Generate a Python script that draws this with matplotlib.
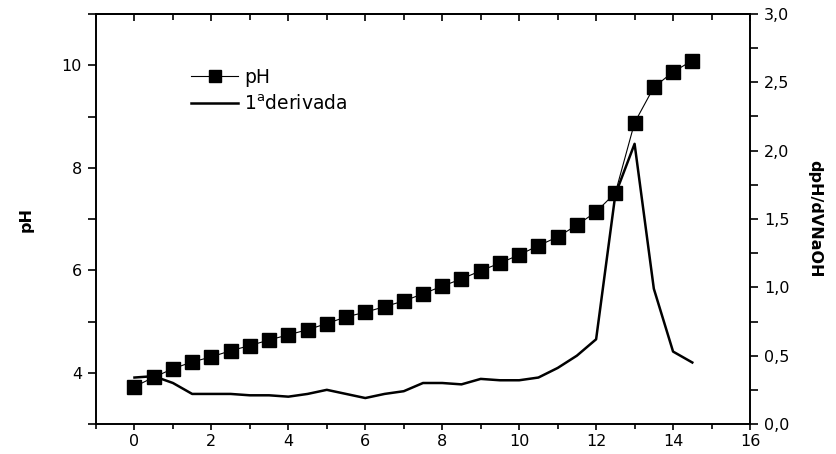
import matplotlib
matplotlib.use("Agg")
import matplotlib.pyplot as plt
import numpy as np

plt.rcParams['font.family'] = ['DejaVu Sans']
plt.rcParams['mathtext.fontset'] = 'dejavusans'

# volume of NaOH (mL)
vol = [0, 0.5, 1, 1.5, 2, 2.5, 3, 3.5, 4, 4.5, 5, 5.5, 6, 6.5, 7, 7.5,
       8, 8.5, 9, 9.5, 10, 10.5, 11, 11.5, 12, 12.5, 13, 13.5, 14, 14.5]
ph = [3.73, 3.91, 4.08, 4.21, 4.31, 4.43, 4.53, 4.64, 4.74, 4.84, 4.96, 5.09,
      5.18, 5.29, 5.40, 5.54, 5.69, 5.83, 5.99, 6.14, 6.30, 6.48, 6.65, 6.88,
      7.14, 7.51, 8.88, 9.57, 9.87, 10.09]
deriv = [0.34, 0.35, 0.30, 0.22, 0.22, 0.22, 0.21, 0.21, 0.20, 0.22, 0.25, 0.22,
         0.19, 0.22, 0.24, 0.30, 0.30, 0.29, 0.33, 0.32, 0.32, 0.34, 0.41, 0.50,
         0.62, 1.68, 2.05, 0.99, 0.53, 0.45]

fig = plt.figure(figsize=(8.37, 4.54), dpi=100)
ax = fig.add_axes([96/837, 30/454, (750-96)/837, (424-14)/454])
ax2 = ax.twinx()

l1, = ax.plot(vol, ph, '-s', color='black', lw=0.8, ms=9.5, label='pH')
l2, = ax2.plot(vol, deriv, '-', color='black', lw=1.8, label='1$^\\mathregular{a}$derivada')

ax.set_xlim(-1, 16)
ax.set_ylim(3, 11)
ax2.set_ylim(0, 3)

ax.set_xticks(np.arange(0, 17, 2))
ax.set_xticks(np.arange(-1, 17, 1), minor=True)
ax.set_yticks([4, 6, 8, 10])
ax.set_yticks([3, 5, 7, 9, 11], minor=True)
ax2.set_yticks(np.arange(0, 3.01, 0.5))
ax2.set_yticks(np.arange(0, 3.01, 0.25), minor=True)
ax2.set_yticklabels([('%.1f' % v).replace('.', ',') for v in np.arange(0, 3.01, 0.5)])

ax.tick_params(axis='x', which='major', direction='out', length=4, width=1.2,
               labelsize=11.5, pad=3)
ax.tick_params(axis='x', which='minor', direction='out', length=3.5, width=1.2)
ax.tick_params(axis='y', which='both', direction='out', length=6, width=1.2,
               labelsize=11.5, pad=4)
ax2.tick_params(axis='y', which='both', direction='out', length=6, width=1.2,
                labelsize=11.5, pad=4)

# ticks on the top edge point inward
top = ax.secondary_xaxis('top')
top.set_xticks(np.arange(0, 17, 2))
top.set_xticks(np.arange(-1, 17, 1), minor=True)
top.tick_params(axis='x', which='major', direction='in', length=5, width=1.2, labeltop=False)
top.tick_params(axis='x', which='minor', direction='in', length=4, width=1.2)
top.set_xticklabels([])

for a in (ax, ax2):
    for s in a.spines.values():
        s.set_linewidth(1.2)
top.spines['top'].set_linewidth(1.2)

ax.set_ylabel('pH', fontweight='bold', fontsize=11.5, labelpad=20)
ax2.set_ylabel('dpH/dVNaOH', fontweight='bold', fontsize=11.5, rotation=-90, labelpad=24)

ax.legend([l1, l2], ['pH', '1$^\\mathregular{a}$derivada'], loc='upper left',
          bbox_to_anchor=(0.12, 0.91), frameon=False, fontsize=13.5,
          handlelength=2.5, handletextpad=0.3, labelspacing=0.4, markerscale=0.85)

fig.savefig('out.png', dpi=100)
